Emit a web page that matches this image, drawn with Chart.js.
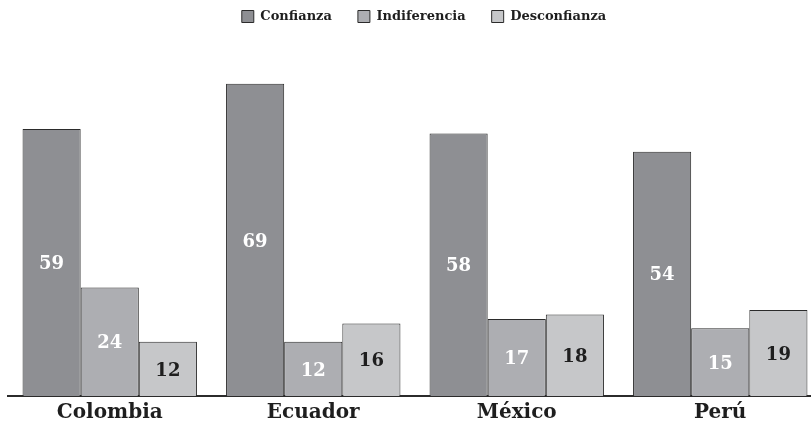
<!DOCTYPE html>
<html>
<head>
<meta charset="utf-8">
<script src="https://cdn.jsdelivr.net/npm/chart.js@4"></script>
<style>
  html, body { margin: 0; padding: 0; background: #fff; overflow: hidden; }
  #wrap { width: 822px; height: 430px; }
</style>
</head>
<body>
<div id="wrap"><canvas id="myChart" width="822" height="430"></canvas></div>
<script>
const paises = ['Colombia', 'Ecuador', 'México', 'Perú'];
const confianza = [59, 69, 58, 54];
const indiferencia = [24, 12, 17, 15];
const desconfianza = [12, 16, 18, 19];

const serif = '"DejaVu Serif", "Liberation Serif", serif';

// etiquetas dentro de las barras
const valueLabels = {
    id: 'valueLabels',
    afterDatasetsDraw(chart) {
        const ctx = chart.ctx;
        ctx.save();
        ctx.font = 'bold 18px ' + serif;
        ctx.textAlign = 'center';
        ctx.textBaseline = 'middle';
        chart.data.datasets.forEach((ds, i) => {
            const meta = chart.getDatasetMeta(i);
            meta.data.forEach((bar, j) => {
                const mid = (bar.y + bar.base) / 2;
                ctx.fillStyle = ds.labelColor;
                ctx.fillText(ds.data[j], bar.x, mid + 2);
            });
        });
        ctx.restore();
    }
};

// leyenda: altura fija, subida y un poco desplazada a la derecha
const legendFix = {
    id: 'legendFix',
    beforeInit(chart) {
        const fit = chart.legend.fit;
        chart.legend.fit = function () {
            fit.bind(chart.legend)();
            this.height = 34;
        };
    },
    afterLayout(chart) {
        const lg = chart.legend;
        lg.left += 18;
        lg.top -= 16;
        lg.height += 16;
    }
};

new Chart(document.getElementById('myChart').getContext('2d'), {
    type: 'bar',
    data: {
        labels: paises,
        datasets: [
            { label: 'Confianza', data: confianza, backgroundColor: '#8e8f93', borderColor: '#2b2b2b', borderWidth: 1, labelColor: '#ffffff' },
            { label: 'Indiferencia', data: indiferencia, backgroundColor: '#adaeb2', borderColor: '#2b2b2b', borderWidth: 1, labelColor: '#ffffff' },
            { label: 'Desconfianza', data: desconfianza, backgroundColor: '#c6c7c9', borderColor: '#2b2b2b', borderWidth: 1, labelColor: '#1e1e1e' }
        ]
    },
    options: {
        responsive: false,
        animation: false,
        devicePixelRatio: 1,
        layout: { padding: { left: 8, right: 0, top: 0, bottom: 0 } },
        datasets: { bar: { categoryPercentage: 0.857, barPercentage: 1 } },
        plugins: {
            legend: {
                position: 'top',
                labels: {
                    boxWidth: 12,
                    boxHeight: 12,
                    padding: 26,
                    color: '#1e1e1e',
                    font: { family: serif, weight: 'bold', size: 13 }
                }
            },
            tooltip: { enabled: false }
        },
        scales: {
            x: {
                grid: { display: false, drawTicks: false },
                border: { display: true, color: '#2b2b2b', width: 2 },
                ticks: { color: '#1e1e1e', padding: 5, font: { family: serif, weight: 'bold', size: 20 } }
            },
            y: {
                display: false,
                min: 0,
                max: 80
            }
        }
    },
    plugins: [valueLabels, legendFix]
});
</script>
</body>
</html>
